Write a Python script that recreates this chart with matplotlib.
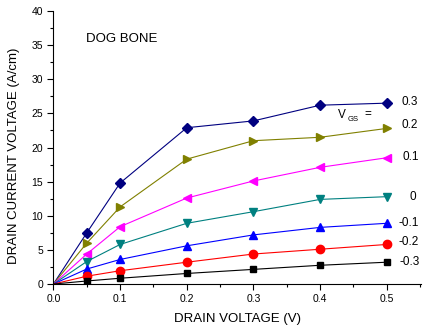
import matplotlib.pyplot as plt
from matplotlib.ticker import MultipleLocator

plt.rcParams['font.family'] = ['Liberation Sans', 'DejaVu Sans']

drain_v = [0.0, 0.05, 0.1, 0.2, 0.3, 0.4, 0.5]

# drain current per gate voltage, A/cm
id_p03 = [0, 7.5, 14.8, 22.9, 23.9, 26.2, 26.5]
id_p02 = [0, 6.0, 11.3, 18.3, 21.0, 21.5, 22.8]
id_p01 = [0, 4.4, 8.4, 12.6, 15.1, 17.1, 18.5]
id_0 = [0, 3.3, 5.8, 8.9, 10.6, 12.4, 12.8]
id_m01 = [0, 2.2, 3.6, 5.6, 7.2, 8.3, 8.9]
id_m02 = [0, 1.15, 1.95, 3.2, 4.4, 5.1, 5.8]
id_m03 = [0, 0.45, 0.85, 1.55, 2.15, 2.75, 3.2]

vgs_labels = ['0.3', '0.2', '0.1', '0', '-0.1', '-0.2', '-0.3']
label_x = [0.522, 0.522, 0.524, 0.534, 0.518, 0.518, 0.519]
label_y = [26.6, 23.3, 18.6, 12.7, 8.9, 6.1, 3.2]

curves = [id_p03, id_p02, id_p01, id_0, id_m01, id_m02, id_m03]
colors = ['#000080', '#808000', '#FF00FF', '#008080', '#0000FF', '#FF0000', '#000000']
markers = ['D', '>', '<', 'v', '^', 'o', 's']
msizes = [5, 6, 6, 6, 6, 6, 5]

fig = plt.figure(figsize=(4.24, 3.33), dpi=100)
ax = fig.add_axes([0.126, 0.147, 0.868, 0.82])

for ys, c, m, ms in zip(curves, colors, markers, msizes):
    ax.plot(drain_v, ys, color=c, lw=0.8, marker=m, ms=ms, markevery=list(range(1, 7)))

for lab, lx, ly in zip(vgs_labels, label_x, label_y):
    ax.text(lx, ly, lab, fontsize=8.5, va='center', ha='left')

# V_GS = written as main letter + small lowered subscript
ax.text(0.427, 24.8, 'V', fontsize=8.5, va='center', ha='left')
ax.text(0.441, 24.1, 'GS', fontsize=5.5, va='center', ha='left')
ax.text(0.466, 24.9, '=', fontsize=8.5, va='center', ha='left')
ax.text(0.049, 35.9, 'DOG BONE', fontsize=9.5, va='center', ha='left')

ax.set_xlim(0, 0.552)
ax.set_ylim(0, 40)
ax.xaxis.set_major_locator(MultipleLocator(0.1))
ax.xaxis.set_minor_locator(MultipleLocator(0.05))
ax.yaxis.set_major_locator(MultipleLocator(5))
ax.yaxis.set_minor_locator(MultipleLocator(2.5))
ax.xaxis.set_major_formatter(plt.FormatStrFormatter('%.1f'))
ax.tick_params(which='major', length=4, width=0.8, labelsize=7.5, direction='out')
ax.tick_params(which='minor', length=2.5, width=0.8, direction='out')

ax.spines['top'].set_visible(False)
ax.spines['right'].set_visible(False)

ax.set_xlabel('DRAIN VOLTAGE (V)', fontsize=9.5, labelpad=6)
ax.set_ylabel('DRAIN CURRENT VOLTAGE (A/cm)', fontsize=9.5)
ax.yaxis.set_label_coords(-0.09, 0.468)

fig.savefig('out.png', dpi=100)
